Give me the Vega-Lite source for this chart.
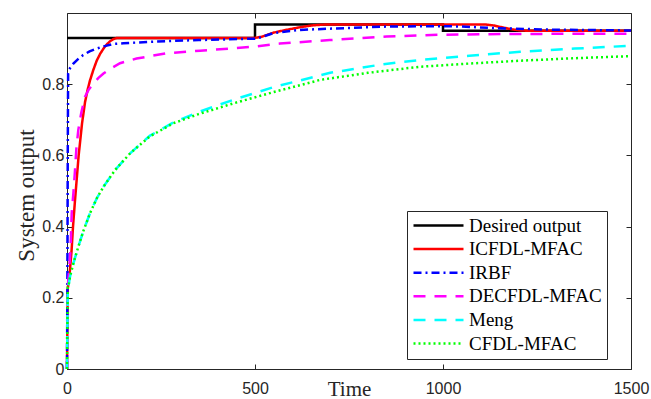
{
  "$schema": "https://vega.github.io/schema/vega-lite/v6.json",
  "width": 564,
  "height": 356,
  "autosize": {"type": "none"},
  "padding": {"left": 67, "top": 13, "right": 20, "bottom": 30},
  "background": "white",
  "config": {
    "font": "Liberation Serif",
    "view": {"stroke": null},
    "axis": {
      "grid": false,
      "domainColor": "#262626",
      "tickColor": "#262626",
      "labelColor": "#262626",
      "labelFont": "Liberation Sans",
      "labelFontSize": 16,
      "titleFont": "Liberation Serif",
      "titleColor": "#262626",
      "titleFontWeight": "normal",
      "domainWidth": 1,
      "tickWidth": 1,
      "labelFlush": false
    },
    "legend": {
      "labelFont": "Liberation Serif",
      "labelFontSize": 19,
      "labelColor": "#000000"
    }
  },
  "resolve": {"axis": {"x": "independent", "y": "independent"}},
  "layer": [
    {
      "data": {"values": [
        {"s": "Desired output", "t": 0, "v": 0.93},
        {"s": "Desired output", "t": 500, "v": 0.968},
        {"s": "Desired output", "t": 1000, "v": 0.95},
        {"s": "Desired output", "t": 1500, "v": 0.95}
      ]},
      "mark": {"type": "line", "interpolate": "step-after", "strokeWidth": 2.5},
      "encoding": {
        "x": {"field": "t", "type": "quantitative", "scale": {"domain": [0, 1500], "nice": false},
              "axis": {"orient": "top", "values": [0, 500, 1000, 1500], "labels": false, "title": null, "tickSize": -5}},
        "y": {"field": "v", "type": "quantitative", "scale": {"domain": [0, 1], "nice": false},
              "axis": {"orient": "right", "values": [0, 0.2, 0.4, 0.6, 0.8], "labels": false, "title": null, "tickSize": -5}},
        "color": {"field": "s", "type": "nominal",
          "scale": {"domain": ["Desired output", "ICFDL-MFAC", "IRBF", "DECFDL-MFAC", "Meng", "CFDL-MFAC"],
                    "range": ["#000000", "#FF0000", "#0000FF", "#FF00FF", "#00FFFF", "#00FF00"]},
          "legend": {"orient": "none", "legendX": 340, "legendY": 198, "title": null,
                     "symbolType": "M-1,0H5.25", "symbolSize": 256, "symbolStrokeWidth": 2.5, "labelOffset": 38,
                     "labelFont": "Liberation Serif", "labelFontSize": 19, "labelColor": "#000000",
                     "rowPadding": 3.6, "padding": 5, "strokeColor": "#262626", "fillColor": "white"}},
        "strokeDash": {"field": "s", "type": "nominal",
          "scale": {"domain": ["Desired output", "ICFDL-MFAC", "IRBF", "DECFDL-MFAC", "Meng", "CFDL-MFAC"],
                    "range": [[1, 0], [1, 0], [8, 4, 2, 4], [12, 9], [12, 9], [2, 3]]},
          "legend": {"orient": "none", "legendX": 340, "legendY": 198, "title": null,
                     "symbolType": "M-1,0H5.25", "symbolSize": 256, "symbolStrokeWidth": 2.5, "labelOffset": 38,
                     "labelFont": "Liberation Serif", "labelFontSize": 19, "labelColor": "#000000",
                     "rowPadding": 3.6, "padding": 5, "strokeColor": "#262626", "fillColor": "white"}}
      }
    },
    {
      "data": {"values": [
        {"s": "ICFDL-MFAC", "t": 0, "v": 0},
        {"s": "ICFDL-MFAC", "t": 1, "v": 0.12},
        {"s": "ICFDL-MFAC", "t": 2, "v": 0.225},
        {"s": "ICFDL-MFAC", "t": 5, "v": 0.25},
        {"s": "ICFDL-MFAC", "t": 8, "v": 0.28},
        {"s": "ICFDL-MFAC", "t": 12, "v": 0.33},
        {"s": "ICFDL-MFAC", "t": 16, "v": 0.4},
        {"s": "ICFDL-MFAC", "t": 21, "v": 0.47},
        {"s": "ICFDL-MFAC", "t": 26, "v": 0.535},
        {"s": "ICFDL-MFAC", "t": 31, "v": 0.6},
        {"s": "ICFDL-MFAC", "t": 40, "v": 0.69},
        {"s": "ICFDL-MFAC", "t": 48, "v": 0.75},
        {"s": "ICFDL-MFAC", "t": 55, "v": 0.785},
        {"s": "ICFDL-MFAC", "t": 61, "v": 0.81},
        {"s": "ICFDL-MFAC", "t": 70, "v": 0.84},
        {"s": "ICFDL-MFAC", "t": 79, "v": 0.866},
        {"s": "ICFDL-MFAC", "t": 88, "v": 0.885},
        {"s": "ICFDL-MFAC", "t": 97, "v": 0.9},
        {"s": "ICFDL-MFAC", "t": 106, "v": 0.912},
        {"s": "ICFDL-MFAC", "t": 115, "v": 0.921},
        {"s": "ICFDL-MFAC", "t": 124, "v": 0.927},
        {"s": "ICFDL-MFAC", "t": 133, "v": 0.93},
        {"s": "ICFDL-MFAC", "t": 500, "v": 0.93},
        {"s": "ICFDL-MFAC", "t": 520, "v": 0.934},
        {"s": "ICFDL-MFAC", "t": 550, "v": 0.945},
        {"s": "ICFDL-MFAC", "t": 585, "v": 0.953},
        {"s": "ICFDL-MFAC", "t": 620, "v": 0.96},
        {"s": "ICFDL-MFAC", "t": 650, "v": 0.965},
        {"s": "ICFDL-MFAC", "t": 690, "v": 0.968},
        {"s": "ICFDL-MFAC", "t": 1110, "v": 0.968},
        {"s": "ICFDL-MFAC", "t": 1135, "v": 0.965},
        {"s": "ICFDL-MFAC", "t": 1160, "v": 0.959},
        {"s": "ICFDL-MFAC", "t": 1185, "v": 0.954},
        {"s": "ICFDL-MFAC", "t": 1205, "v": 0.951},
        {"s": "ICFDL-MFAC", "t": 1230, "v": 0.95},
        {"s": "ICFDL-MFAC", "t": 1500, "v": 0.95},

        {"s": "IRBF", "t": 0, "v": 0},
        {"s": "IRBF", "t": 1, "v": 0.23},
        {"s": "IRBF", "t": 2, "v": 0.6},
        {"s": "IRBF", "t": 3, "v": 0.83},
        {"s": "IRBF", "t": 8, "v": 0.845},
        {"s": "IRBF", "t": 17, "v": 0.858},
        {"s": "IRBF", "t": 30, "v": 0.871},
        {"s": "IRBF", "t": 43, "v": 0.882},
        {"s": "IRBF", "t": 60, "v": 0.892},
        {"s": "IRBF", "t": 79, "v": 0.9},
        {"s": "IRBF", "t": 100, "v": 0.907},
        {"s": "IRBF", "t": 123, "v": 0.913},
        {"s": "IRBF", "t": 150, "v": 0.915},
        {"s": "IRBF", "t": 185, "v": 0.917},
        {"s": "IRBF", "t": 265, "v": 0.921},
        {"s": "IRBF", "t": 350, "v": 0.924},
        {"s": "IRBF", "t": 500, "v": 0.928},
        {"s": "IRBF", "t": 510, "v": 0.93},
        {"s": "IRBF", "t": 548, "v": 0.943},
        {"s": "IRBF", "t": 611, "v": 0.952},
        {"s": "IRBF", "t": 699, "v": 0.956},
        {"s": "IRBF", "t": 850, "v": 0.962},
        {"s": "IRBF", "t": 992, "v": 0.963},
        {"s": "IRBF", "t": 1050, "v": 0.962},
        {"s": "IRBF", "t": 1150, "v": 0.957},
        {"s": "IRBF", "t": 1300, "v": 0.953},
        {"s": "IRBF", "t": 1500, "v": 0.951},

        {"s": "DECFDL-MFAC", "t": 0, "v": 0},
        {"s": "DECFDL-MFAC", "t": 1, "v": 0.12},
        {"s": "DECFDL-MFAC", "t": 2, "v": 0.23},
        {"s": "DECFDL-MFAC", "t": 5, "v": 0.27},
        {"s": "DECFDL-MFAC", "t": 8, "v": 0.315},
        {"s": "DECFDL-MFAC", "t": 10.6, "v": 0.372},
        {"s": "DECFDL-MFAC", "t": 12.5, "v": 0.437},
        {"s": "DECFDL-MFAC", "t": 17, "v": 0.494},
        {"s": "DECFDL-MFAC", "t": 21, "v": 0.554},
        {"s": "DECFDL-MFAC", "t": 25, "v": 0.62},
        {"s": "DECFDL-MFAC", "t": 30, "v": 0.671},
        {"s": "DECFDL-MFAC", "t": 38, "v": 0.72},
        {"s": "DECFDL-MFAC", "t": 48, "v": 0.765},
        {"s": "DECFDL-MFAC", "t": 58, "v": 0.785},
        {"s": "DECFDL-MFAC", "t": 70, "v": 0.802},
        {"s": "DECFDL-MFAC", "t": 83, "v": 0.817},
        {"s": "DECFDL-MFAC", "t": 97, "v": 0.83},
        {"s": "DECFDL-MFAC", "t": 118, "v": 0.845},
        {"s": "DECFDL-MFAC", "t": 141, "v": 0.859},
        {"s": "DECFDL-MFAC", "t": 185, "v": 0.872},
        {"s": "DECFDL-MFAC", "t": 265, "v": 0.887},
        {"s": "DECFDL-MFAC", "t": 354, "v": 0.894},
        {"s": "DECFDL-MFAC", "t": 434, "v": 0.9},
        {"s": "DECFDL-MFAC", "t": 500, "v": 0.906},
        {"s": "DECFDL-MFAC", "t": 566, "v": 0.914},
        {"s": "DECFDL-MFAC", "t": 699, "v": 0.924},
        {"s": "DECFDL-MFAC", "t": 850, "v": 0.934},
        {"s": "DECFDL-MFAC", "t": 992, "v": 0.939},
        {"s": "DECFDL-MFAC", "t": 1152, "v": 0.941},
        {"s": "DECFDL-MFAC", "t": 1500, "v": 0.942},

        {"s": "Meng", "t": 0, "v": 0},
        {"s": "Meng", "t": 2, "v": 0.23},
        {"s": "Meng", "t": 3.5, "v": 0.231},
        {"s": "Meng", "t": 8, "v": 0.259},
        {"s": "Meng", "t": 17, "v": 0.297},
        {"s": "Meng", "t": 30, "v": 0.343},
        {"s": "Meng", "t": 43, "v": 0.386},
        {"s": "Meng", "t": 61, "v": 0.437},
        {"s": "Meng", "t": 79, "v": 0.479},
        {"s": "Meng", "t": 97, "v": 0.512},
        {"s": "Meng", "t": 128, "v": 0.559},
        {"s": "Meng", "t": 168, "v": 0.606},
        {"s": "Meng", "t": 220, "v": 0.655},
        {"s": "Meng", "t": 282, "v": 0.692},
        {"s": "Meng", "t": 350, "v": 0.722},
        {"s": "Meng", "t": 442, "v": 0.756},
        {"s": "Meng", "t": 550, "v": 0.792},
        {"s": "Meng", "t": 700, "v": 0.832},
        {"s": "Meng", "t": 840, "v": 0.856},
        {"s": "Meng", "t": 939, "v": 0.868},
        {"s": "Meng", "t": 1070, "v": 0.88},
        {"s": "Meng", "t": 1205, "v": 0.891},
        {"s": "Meng", "t": 1350, "v": 0.9},
        {"s": "Meng", "t": 1500, "v": 0.908},

        {"s": "CFDL-MFAC", "t": 0, "v": 0},
        {"s": "CFDL-MFAC", "t": 2, "v": 0.23},
        {"s": "CFDL-MFAC", "t": 3.5, "v": 0.231},
        {"s": "CFDL-MFAC", "t": 8, "v": 0.259},
        {"s": "CFDL-MFAC", "t": 17, "v": 0.297},
        {"s": "CFDL-MFAC", "t": 30, "v": 0.343},
        {"s": "CFDL-MFAC", "t": 43, "v": 0.386},
        {"s": "CFDL-MFAC", "t": 61, "v": 0.437},
        {"s": "CFDL-MFAC", "t": 79, "v": 0.479},
        {"s": "CFDL-MFAC", "t": 97, "v": 0.512},
        {"s": "CFDL-MFAC", "t": 128, "v": 0.559},
        {"s": "CFDL-MFAC", "t": 168, "v": 0.606},
        {"s": "CFDL-MFAC", "t": 220, "v": 0.653},
        {"s": "CFDL-MFAC", "t": 282, "v": 0.69},
        {"s": "CFDL-MFAC", "t": 350, "v": 0.716},
        {"s": "CFDL-MFAC", "t": 442, "v": 0.746},
        {"s": "CFDL-MFAC", "t": 550, "v": 0.778},
        {"s": "CFDL-MFAC", "t": 673, "v": 0.812},
        {"s": "CFDL-MFAC", "t": 800, "v": 0.832},
        {"s": "CFDL-MFAC", "t": 939, "v": 0.849},
        {"s": "CFDL-MFAC", "t": 1070, "v": 0.858},
        {"s": "CFDL-MFAC", "t": 1205, "v": 0.866},
        {"s": "CFDL-MFAC", "t": 1350, "v": 0.873},
        {"s": "CFDL-MFAC", "t": 1500, "v": 0.879}
      ]},
      "mark": {"type": "line", "strokeWidth": 2.5},
      "encoding": {
        "x": {"field": "t", "type": "quantitative", "scale": {"domain": [0, 1500], "nice": false},
              "axis": {"orient": "bottom", "values": [0, 500, 1000, 1500], "format": "d", "title": "Time", "tickSize": -5,
                       "labelPadding": 16, "labelFont": "Liberation Sans", "titleFontSize": 21, "titleFont": "Liberation Serif", "titleFontWeight": "normal",
                       "titleBaseline": "alphabetic", "titleY": 26}},
        "y": {"field": "v", "type": "quantitative", "scale": {"domain": [0, 1], "nice": false},
              "axis": {"orient": "left", "values": [0, 0.2, 0.4, 0.6, 0.8], "format": "~g", "title": "System output", "tickSize": -5,
                       "labelPadding": 8, "labelFont": "Liberation Sans", "titleFontSize": 23, "titleFont": "Liberation Serif", "titleFontWeight": "normal",
                       "titleAngle": 270, "titleBaseline": "alphabetic",
                       "titleAlign": "center", "titleX": -34, "titleY": 182}},
        "color": {"field": "s", "type": "nominal"},
        "strokeDash": {"field": "s", "type": "nominal"}
      }
    }
  ]
}
